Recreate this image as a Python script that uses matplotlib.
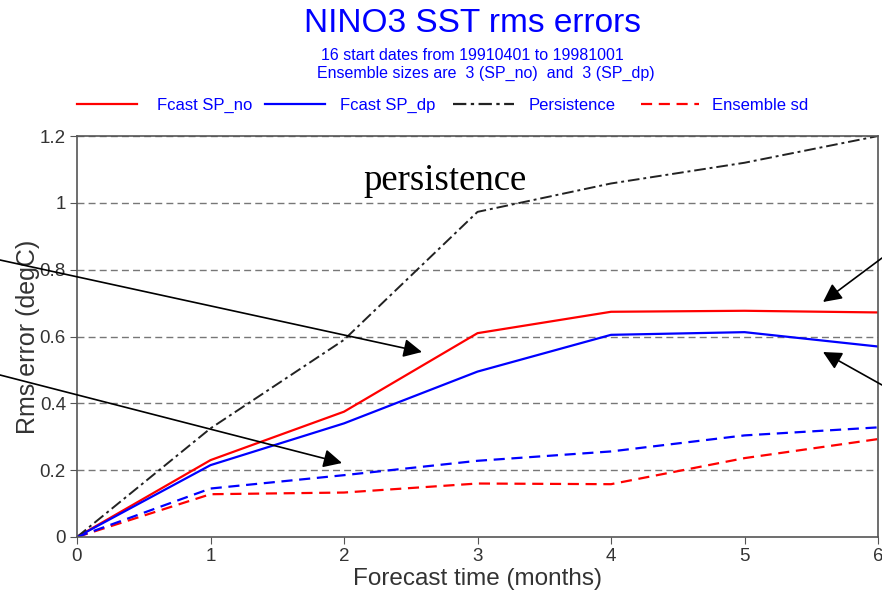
import matplotlib
matplotlib.use("Agg")
import matplotlib.pyplot as plt
from matplotlib.lines import Line2D
from matplotlib.patches import FancyArrowPatch

months = [0, 1, 2, 3, 4, 5, 6]
fcast_sp_no = [0.0, 0.23, 0.375, 0.61, 0.674, 0.677, 0.672]
fcast_sp_dp = [0.0, 0.215, 0.34, 0.495, 0.605, 0.613, 0.570]
persistence = [0.0, 0.325, 0.59, 0.973, 1.058, 1.12, 1.2]
ens_sd_dp = [0.0, 0.145, 0.185, 0.228, 0.256, 0.304, 0.328]
ens_sd_no = [0.0, 0.128, 0.133, 0.16, 0.158, 0.236, 0.293]
y_ticks = [0, 0.2, 0.4, 0.6, 0.8, 1, 1.2]
y_tick_labels = ["0", "0.2", "0.4", "0.6", "0.8", "1", "1.2"]

plt.rcParams["font.family"] = ["Liberation Sans", "DejaVu Sans"]

fig = plt.figure(figsize=(8.82, 5.94), dpi=100)
ax = fig.add_axes([0.0873, 0.096, 0.9082, 0.675])

dash = (0, (5, 3))
dashdot = (0, (6, 2, 1.5, 2))
ax.plot(months, fcast_sp_no, color="red", lw=1.6)
ax.plot(months, fcast_sp_dp, color="blue", lw=1.6)
ax.plot(months, persistence, color="#222222", lw=1.4, linestyle=dashdot)
ax.plot(months, ens_sd_no, color="red", lw=1.6, linestyle=dash)
ax.plot(months, ens_sd_dp, color="blue", lw=1.6, linestyle=dash)

ax.set_xlim(0, 6)
ax.set_ylim(0, 1.2)
ax.set_xticks(months)
ax.set_yticks(y_ticks)
ax.set_yticklabels(y_tick_labels)
ax.tick_params(labelsize=13.5, colors="#555555", labelcolor="#333333", length=5,
               width=0.8, pad=3)
for y in y_ticks[1:]:
    ax.axhline(y, color="#777777", lw=1.0, linestyle=dash, zorder=0)
for s in ax.spines.values():
    s.set_color("#555555")
    s.set_linewidth(1.2)

ax.set_xlabel("Forecast time (months)", fontsize=17.5, color="#333333", labelpad=2)
ax.set_ylabel("Rms error (degC)", fontsize=18, color="#333333", labelpad=0)

fig.text(0.536, 0.960, "NINO3 SST rms errors", ha="center", va="center",
         fontsize=24, color="blue")
fig.text(0.536, 0.907, "16 start dates from 19910401 to 19981001", ha="center",
         va="center", fontsize=11.5, color="blue")
fig.text(0.551, 0.877, "Ensemble sizes are  3 (SP_no)  and  3 (SP_dp)", ha="center",
         va="center", fontsize=11.5, color="blue")

# legend row: (label, colour, style, line start px, line end px, text start px)
leg_items = [("Fcast SP_no", "red", "-", 77, 137, 157),
             ("Fcast SP_dp", "blue", "-", 265, 325, 340),
             ("Persistence", "#222222", dashdot, 453, 514, 529),
             ("Ensemble sd", "red", dash, 641, 699, 712)]
leg_fs = 12
em = leg_fs * 100 / 72
for label, col, ls, x0, x1, xt in leg_items:
    h = Line2D([], [], color=col, lw=1.6, linestyle=ls)
    fig.legend([h], [label], loc="center left", bbox_to_anchor=(x0 / 882, 1 - 105 / 594),
               frameon=False, fontsize=leg_fs, labelcolor="blue", borderpad=0,
               borderaxespad=0, handlelength=(x1 - x0) / em,
               handletextpad=(xt - x1) / em)

fig.text(445 / 882, 1 - 190 / 594, "persistence", ha="center", va="baseline",
         fontsize=26.5, family=["Liberation Serif", "DejaVu Serif"], color="black")

arrows = [((0, 260), (422, 352)), ((0, 375), (342, 463)),
          ((882, 258), (823, 302)), ((882, 385), (823, 352))]
for (x0, y0), (x1, y1) in arrows:
    fig.add_artist(FancyArrowPatch(
        (x0 / 882, 1 - y0 / 594), (x1 / 882, 1 - y1 / 594),
        transform=fig.transFigure, arrowstyle="-|>", mutation_scale=28,
        color="black", lw=1.2, shrinkA=0, shrinkB=0))

fig.savefig("out.png", dpi=100)
